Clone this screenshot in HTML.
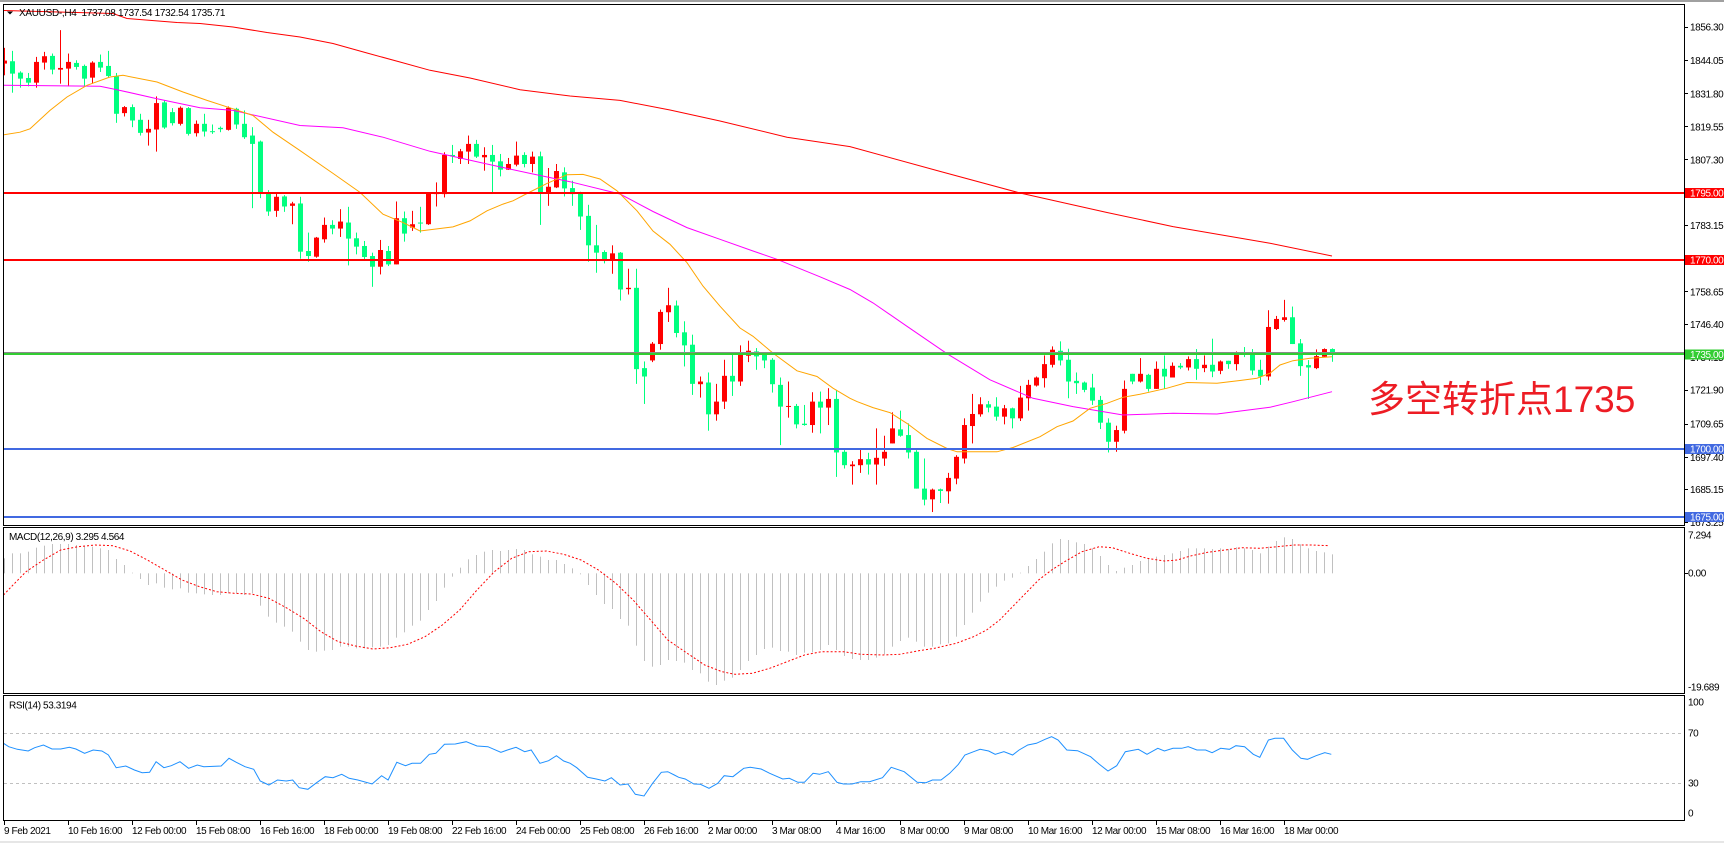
<!DOCTYPE html>
<html><head><meta charset="utf-8"><style>
html,body{margin:0;padding:0;background:#fff;}
svg{display:block;}
text{font-family:"Liberation Sans",sans-serif;font-size:10px;letter-spacing:-0.4px;fill:#000;}
.r{fill:#ff0000;}
.g{fill:#00ff7f;}
.h{fill:#c0c0c0;}
</style></head><body>
<svg width="1724" height="843" viewBox="0 0 1724 843" xmlns="http://www.w3.org/2000/svg">
<defs>
<clipPath id="cm"><rect x="4" y="5" width="1680" height="520"/></clipPath>
<clipPath id="cd"><rect x="4" y="528" width="1680" height="165"/></clipPath>
<clipPath id="cr"><rect x="4" y="696" width="1680" height="124"/></clipPath>
</defs>
<rect x="0" y="0" width="1724" height="843" fill="#fff"/>
<rect x="0" y="0" width="1724" height="2" fill="#a0a0a0"/>
<rect x="0" y="841" width="1724" height="2" fill="#e6e6e6"/>

<!-- MAIN CHART -->
<g clip-path="url(#cm)">
<g transform="scale(1,0.334667)">
<rect class="r" x="4" y="143" width="1" height="82"/><rect class="r" x="2" y="181" width="5" height="9"/>
<rect class="g" x="12" y="152" width="1" height="125"/><rect class="g" x="10" y="183" width="5" height="37"/>
<rect class="g" x="20" y="213" width="1" height="49"/><rect class="g" x="18" y="217" width="5" height="18"/>
<rect class="g" x="28" y="218" width="1" height="40"/><rect class="g" x="26" y="233" width="5" height="14"/>
<rect class="r" x="36" y="170" width="1" height="92"/><rect class="r" x="34" y="185" width="5" height="62"/>
<rect class="r" x="44" y="155" width="1" height="53"/><rect class="r" x="42" y="168" width="5" height="19"/>
<rect class="g" x="52" y="160" width="1" height="62"/><rect class="g" x="50" y="167" width="5" height="41"/>
<rect class="r" x="60" y="90" width="1" height="160"/><rect class="r" x="58" y="203" width="5" height="5"/>
<rect class="r" x="68" y="160" width="1" height="98"/><rect class="r" x="66" y="185" width="5" height="20"/>
<rect class="g" x="76" y="180" width="1" height="28"/><rect class="g" x="74" y="188" width="5" height="12"/>
<rect class="g" x="84" y="193" width="1" height="67"/><rect class="g" x="82" y="197" width="5" height="38"/>
<rect class="r" x="92" y="183" width="1" height="67"/><rect class="r" x="90" y="187" width="5" height="45"/>
<rect class="g" x="100" y="163" width="1" height="52"/><rect class="g" x="98" y="185" width="5" height="17"/>
<rect class="g" x="108" y="152" width="1" height="80"/><rect class="g" x="106" y="197" width="5" height="30"/>
<rect class="g" x="116" y="218" width="1" height="149"/><rect class="g" x="114" y="228" width="5" height="112"/>
<rect class="r" x="124" y="317" width="1" height="31"/><rect class="r" x="122" y="320" width="5" height="18"/>
<rect class="g" x="132" y="312" width="1" height="68"/><rect class="g" x="130" y="320" width="5" height="40"/>
<rect class="g" x="140" y="340" width="1" height="65"/><rect class="g" x="138" y="358" width="5" height="39"/>
<rect class="r" x="148" y="358" width="1" height="77"/><rect class="r" x="146" y="385" width="5" height="11"/>
<rect class="r" x="156" y="288" width="1" height="165"/><rect class="r" x="154" y="308" width="5" height="79"/>
<rect class="g" x="164" y="300" width="1" height="85"/><rect class="g" x="162" y="306" width="5" height="75"/>
<rect class="g" x="172" y="323" width="1" height="52"/><rect class="g" x="170" y="335" width="5" height="33"/>
<rect class="r" x="180" y="318" width="1" height="57"/><rect class="r" x="178" y="322" width="5" height="48"/>
<rect class="g" x="188" y="320" width="1" height="85"/><rect class="g" x="186" y="323" width="5" height="77"/>
<rect class="r" x="196" y="360" width="1" height="48"/><rect class="r" x="194" y="370" width="5" height="28"/>
<rect class="g" x="204" y="340" width="1" height="68"/><rect class="g" x="202" y="370" width="5" height="23"/>
<rect class="g" x="212" y="372" width="1" height="28"/><rect class="g" x="210" y="392" width="5" height="3"/>
<rect class="g" x="220" y="378" width="1" height="17"/><rect class="g" x="218" y="382" width="5" height="4"/>
<rect class="r" x="228" y="318" width="1" height="72"/><rect class="r" x="226" y="322" width="5" height="66"/>
<rect class="g" x="236" y="322" width="1" height="63"/><rect class="g" x="234" y="325" width="5" height="47"/>
<rect class="g" x="244" y="330" width="1" height="85"/><rect class="g" x="242" y="370" width="5" height="40"/>
<rect class="g" x="252" y="380" width="1" height="242"/><rect class="g" x="250" y="405" width="5" height="25"/>
<rect class="g" x="260" y="420" width="1" height="172"/><rect class="g" x="258" y="423" width="5" height="152"/>
<rect class="g" x="268" y="568" width="1" height="77"/><rect class="g" x="266" y="578" width="5" height="54"/>
<rect class="r" x="276" y="578" width="1" height="70"/><rect class="r" x="274" y="588" width="5" height="42"/>
<rect class="g" x="284" y="583" width="1" height="50"/><rect class="g" x="282" y="587" width="5" height="30"/>
<rect class="r" x="292" y="603" width="1" height="67"/><rect class="r" x="290" y="608" width="5" height="7"/>
<rect class="g" x="300" y="588" width="1" height="185"/><rect class="g" x="298" y="608" width="5" height="144"/>
<rect class="g" x="308" y="695" width="1" height="87"/><rect class="g" x="306" y="750" width="5" height="15"/>
<rect class="r" x="316" y="708" width="1" height="62"/><rect class="r" x="314" y="710" width="5" height="57"/>
<rect class="r" x="324" y="650" width="1" height="75"/><rect class="r" x="322" y="672" width="5" height="43"/>
<rect class="g" x="332" y="658" width="1" height="42"/><rect class="g" x="330" y="672" width="5" height="11"/>
<rect class="r" x="340" y="625" width="1" height="83"/><rect class="r" x="338" y="662" width="5" height="21"/>
<rect class="g" x="348" y="618" width="1" height="175"/><rect class="g" x="346" y="665" width="5" height="48"/>
<rect class="g" x="356" y="695" width="1" height="65"/><rect class="g" x="354" y="712" width="5" height="25"/>
<rect class="g" x="364" y="720" width="1" height="55"/><rect class="g" x="362" y="735" width="5" height="33"/>
<rect class="g" x="372" y="755" width="1" height="102"/><rect class="g" x="370" y="765" width="5" height="32"/>
<rect class="r" x="380" y="717" width="1" height="103"/><rect class="r" x="378" y="747" width="5" height="50"/>
<rect class="g" x="388" y="735" width="1" height="60"/><rect class="g" x="386" y="750" width="5" height="40"/>
<rect class="r" x="396" y="602" width="1" height="188"/><rect class="r" x="394" y="652" width="5" height="138"/>
<rect class="g" x="404" y="632" width="1" height="90"/><rect class="g" x="402" y="652" width="5" height="46"/>
<rect class="r" x="412" y="630" width="1" height="60"/><rect class="r" x="410" y="670" width="5" height="10"/>
<rect class="g" x="420" y="618" width="1" height="77"/><rect class="g" x="418" y="665" width="5" height="3"/>
<rect class="r" x="428" y="575" width="1" height="97"/><rect class="r" x="426" y="577" width="5" height="93"/>
<rect class="r" x="436" y="545" width="1" height="72"/><rect class="r" x="434" y="575" width="5" height="5"/>
<rect class="r" x="444" y="455" width="1" height="135"/><rect class="r" x="442" y="463" width="5" height="117"/>
<rect class="g" x="452" y="433" width="1" height="54"/><rect class="g" x="450" y="463" width="5" height="4"/>
<rect class="r" x="460" y="445" width="1" height="45"/><rect class="r" x="458" y="452" width="5" height="23"/>
<rect class="r" x="468" y="405" width="1" height="85"/><rect class="r" x="466" y="430" width="5" height="23"/>
<rect class="g" x="476" y="418" width="1" height="54"/><rect class="g" x="474" y="430" width="5" height="38"/>
<rect class="r" x="484" y="440" width="1" height="70"/><rect class="r" x="482" y="463" width="5" height="7"/>
<rect class="g" x="492" y="433" width="1" height="142"/><rect class="g" x="490" y="463" width="5" height="20"/>
<rect class="g" x="500" y="460" width="1" height="67"/><rect class="g" x="498" y="482" width="5" height="25"/>
<rect class="r" x="508" y="472" width="1" height="36"/><rect class="r" x="506" y="490" width="5" height="17"/>
<rect class="r" x="516" y="423" width="1" height="74"/><rect class="r" x="514" y="465" width="5" height="27"/>
<rect class="g" x="524" y="455" width="1" height="45"/><rect class="g" x="522" y="463" width="5" height="27"/>
<rect class="r" x="532" y="453" width="1" height="62"/><rect class="r" x="530" y="468" width="5" height="22"/>
<rect class="g" x="540" y="453" width="1" height="219"/><rect class="g" x="538" y="467" width="5" height="108"/>
<rect class="r" x="548" y="502" width="1" height="113"/><rect class="r" x="546" y="558" width="5" height="19"/>
<rect class="r" x="556" y="490" width="1" height="72"/><rect class="r" x="554" y="511" width="5" height="49"/>
<rect class="g" x="564" y="500" width="1" height="87"/><rect class="g" x="562" y="515" width="5" height="48"/>
<rect class="g" x="572" y="540" width="1" height="75"/><rect class="g" x="570" y="562" width="5" height="18"/>
<rect class="g" x="580" y="573" width="1" height="114"/><rect class="g" x="578" y="578" width="5" height="69"/>
<rect class="g" x="588" y="612" width="1" height="170"/><rect class="g" x="586" y="645" width="5" height="88"/>
<rect class="g" x="596" y="672" width="1" height="143"/><rect class="g" x="594" y="733" width="5" height="22"/>
<rect class="g" x="604" y="748" width="1" height="39"/><rect class="g" x="602" y="753" width="5" height="27"/>
<rect class="r" x="612" y="733" width="1" height="85"/><rect class="r" x="610" y="757" width="5" height="20"/>
<rect class="g" x="620" y="753" width="1" height="145"/><rect class="g" x="618" y="755" width="5" height="110"/>
<rect class="r" x="628" y="803" width="1" height="77"/><rect class="r" x="626" y="860" width="5" height="4"/>
<rect class="g" x="636" y="803" width="1" height="344"/><rect class="g" x="634" y="860" width="5" height="243"/>
<rect class="g" x="644" y="1080" width="1" height="127"/><rect class="g" x="642" y="1100" width="5" height="25"/>
<rect class="r" x="652" y="1022" width="1" height="60"/><rect class="r" x="650" y="1027" width="5" height="50"/>
<rect class="r" x="660" y="925" width="1" height="120"/><rect class="r" x="658" y="932" width="5" height="96"/>
<rect class="r" x="668" y="860" width="1" height="102"/><rect class="r" x="666" y="912" width="5" height="21"/>
<rect class="g" x="676" y="898" width="1" height="110"/><rect class="g" x="674" y="913" width="5" height="82"/>
<rect class="g" x="684" y="960" width="1" height="135"/><rect class="g" x="682" y="993" width="5" height="39"/>
<rect class="g" x="692" y="1000" width="1" height="180"/><rect class="g" x="690" y="1030" width="5" height="117"/>
<rect class="r" x="700" y="1125" width="1" height="63"/><rect class="r" x="698" y="1140" width="5" height="8"/>
<rect class="g" x="708" y="1113" width="1" height="174"/><rect class="g" x="706" y="1143" width="5" height="95"/>
<rect class="r" x="716" y="1147" width="1" height="110"/><rect class="r" x="714" y="1200" width="5" height="38"/>
<rect class="r" x="724" y="1075" width="1" height="147"/><rect class="r" x="722" y="1123" width="5" height="77"/>
<rect class="g" x="732" y="1052" width="1" height="131"/><rect class="g" x="730" y="1123" width="5" height="17"/>
<rect class="r" x="740" y="1032" width="1" height="121"/><rect class="r" x="738" y="1060" width="5" height="80"/>
<rect class="r" x="748" y="1018" width="1" height="64"/><rect class="r" x="746" y="1048" width="5" height="15"/>
<rect class="g" x="756" y="1040" width="1" height="65"/><rect class="g" x="754" y="1050" width="5" height="15"/>
<rect class="g" x="764" y="1053" width="1" height="47"/><rect class="g" x="762" y="1058" width="5" height="19"/>
<rect class="g" x="772" y="1070" width="1" height="103"/><rect class="g" x="770" y="1075" width="5" height="73"/>
<rect class="g" x="780" y="1128" width="1" height="202"/><rect class="g" x="778" y="1150" width="5" height="65"/>
<rect class="r" x="788" y="1140" width="1" height="108"/><rect class="r" x="786" y="1213" width="5" height="3"/>
<rect class="g" x="796" y="1207" width="1" height="73"/><rect class="g" x="794" y="1213" width="5" height="55"/>
<rect class="g" x="804" y="1210" width="1" height="62"/><rect class="g" x="802" y="1266" width="5" height="4"/>
<rect class="r" x="812" y="1172" width="1" height="121"/><rect class="r" x="810" y="1200" width="5" height="70"/>
<rect class="g" x="820" y="1170" width="1" height="125"/><rect class="g" x="818" y="1200" width="5" height="18"/>
<rect class="r" x="828" y="1160" width="1" height="110"/><rect class="r" x="826" y="1192" width="5" height="26"/>
<rect class="g" x="836" y="1165" width="1" height="260"/><rect class="g" x="834" y="1192" width="5" height="160"/>
<rect class="g" x="844" y="1345" width="1" height="55"/><rect class="g" x="842" y="1350" width="5" height="40"/>
<rect class="r" x="852" y="1378" width="1" height="70"/><rect class="r" x="850" y="1388" width="5" height="5"/>
<rect class="r" x="860" y="1343" width="1" height="70"/><rect class="r" x="858" y="1372" width="5" height="18"/>
<rect class="g" x="868" y="1353" width="1" height="65"/><rect class="g" x="866" y="1372" width="5" height="16"/>
<rect class="r" x="876" y="1280" width="1" height="168"/><rect class="r" x="874" y="1368" width="5" height="20"/>
<rect class="r" x="884" y="1302" width="1" height="90"/><rect class="r" x="882" y="1350" width="5" height="20"/>
<rect class="r" x="892" y="1232" width="1" height="93"/><rect class="r" x="890" y="1280" width="5" height="45"/>
<rect class="g" x="900" y="1227" width="1" height="78"/><rect class="g" x="898" y="1283" width="5" height="19"/>
<rect class="g" x="908" y="1265" width="1" height="105"/><rect class="g" x="906" y="1300" width="5" height="52"/>
<rect class="g" x="916" y="1345" width="1" height="115"/><rect class="g" x="914" y="1350" width="5" height="110"/>
<rect class="g" x="924" y="1370" width="1" height="140"/><rect class="g" x="922" y="1460" width="5" height="33"/>
<rect class="r" x="932" y="1460" width="1" height="70"/><rect class="r" x="930" y="1463" width="5" height="29"/>
<rect class="g" x="940" y="1460" width="1" height="43"/><rect class="g" x="938" y="1462" width="5" height="5"/>
<rect class="r" x="948" y="1413" width="1" height="92"/><rect class="r" x="946" y="1428" width="5" height="40"/>
<rect class="r" x="956" y="1360" width="1" height="87"/><rect class="r" x="954" y="1365" width="5" height="65"/>
<rect class="r" x="964" y="1250" width="1" height="135"/><rect class="r" x="962" y="1270" width="5" height="100"/>
<rect class="r" x="972" y="1177" width="1" height="148"/><rect class="r" x="970" y="1237" width="5" height="36"/>
<rect class="r" x="980" y="1187" width="1" height="58"/><rect class="r" x="978" y="1208" width="5" height="30"/>
<rect class="g" x="988" y="1198" width="1" height="34"/><rect class="g" x="986" y="1208" width="5" height="10"/>
<rect class="g" x="996" y="1187" width="1" height="70"/><rect class="g" x="994" y="1215" width="5" height="30"/>
<rect class="r" x="1004" y="1210" width="1" height="58"/><rect class="r" x="1002" y="1220" width="5" height="25"/>
<rect class="g" x="1012" y="1218" width="1" height="62"/><rect class="g" x="1010" y="1220" width="5" height="30"/>
<rect class="r" x="1020" y="1153" width="1" height="105"/><rect class="r" x="1018" y="1188" width="5" height="62"/>
<rect class="r" x="1028" y="1135" width="1" height="92"/><rect class="r" x="1026" y="1150" width="5" height="40"/>
<rect class="r" x="1036" y="1125" width="1" height="30"/><rect class="r" x="1034" y="1128" width="5" height="24"/>
<rect class="r" x="1044" y="1062" width="1" height="96"/><rect class="r" x="1042" y="1088" width="5" height="42"/>
<rect class="r" x="1052" y="1035" width="1" height="63"/><rect class="r" x="1050" y="1045" width="5" height="45"/>
<rect class="g" x="1060" y="1020" width="1" height="72"/><rect class="g" x="1058" y="1048" width="5" height="29"/>
<rect class="g" x="1068" y="1042" width="1" height="148"/><rect class="g" x="1066" y="1075" width="5" height="65"/>
<rect class="g" x="1076" y="1113" width="1" height="64"/><rect class="g" x="1074" y="1138" width="5" height="7"/>
<rect class="g" x="1084" y="1140" width="1" height="32"/><rect class="g" x="1082" y="1143" width="5" height="22"/>
<rect class="g" x="1092" y="1117" width="1" height="93"/><rect class="g" x="1090" y="1158" width="5" height="39"/>
<rect class="g" x="1100" y="1183" width="1" height="99"/><rect class="g" x="1098" y="1195" width="5" height="68"/>
<rect class="g" x="1108" y="1250" width="1" height="102"/><rect class="g" x="1106" y="1263" width="5" height="57"/>
<rect class="r" x="1116" y="1272" width="1" height="78"/><rect class="r" x="1114" y="1285" width="5" height="35"/>
<rect class="r" x="1124" y="1137" width="1" height="158"/><rect class="r" x="1122" y="1162" width="5" height="125"/>
<rect class="g" x="1132" y="1117" width="1" height="31"/><rect class="g" x="1130" y="1117" width="5" height="23"/>
<rect class="r" x="1140" y="1070" width="1" height="73"/><rect class="r" x="1138" y="1117" width="5" height="23"/>
<rect class="g" x="1148" y="1117" width="1" height="53"/><rect class="g" x="1146" y="1120" width="5" height="42"/>
<rect class="r" x="1156" y="1080" width="1" height="82"/><rect class="r" x="1154" y="1102" width="5" height="60"/>
<rect class="g" x="1164" y="1062" width="1" height="100"/><rect class="g" x="1162" y="1102" width="5" height="23"/>
<rect class="r" x="1172" y="1083" width="1" height="45"/><rect class="r" x="1170" y="1093" width="5" height="35"/>
<rect class="g" x="1180" y="1085" width="1" height="18"/><rect class="g" x="1178" y="1093" width="5" height="5"/>
<rect class="r" x="1188" y="1065" width="1" height="42"/><rect class="r" x="1186" y="1073" width="5" height="25"/>
<rect class="g" x="1196" y="1043" width="1" height="92"/><rect class="g" x="1194" y="1073" width="5" height="29"/>
<rect class="r" x="1204" y="1062" width="1" height="50"/><rect class="r" x="1202" y="1090" width="5" height="10"/>
<rect class="g" x="1212" y="1012" width="1" height="115"/><rect class="g" x="1210" y="1090" width="5" height="20"/>
<rect class="r" x="1220" y="1077" width="1" height="41"/><rect class="r" x="1218" y="1080" width="5" height="28"/>
<rect class="g" x="1228" y="1078" width="1" height="24"/><rect class="g" x="1226" y="1078" width="5" height="10"/>
<rect class="r" x="1236" y="1050" width="1" height="57"/><rect class="r" x="1234" y="1053" width="5" height="35"/>
<rect class="g" x="1244" y="1037" width="1" height="30"/><rect class="g" x="1242" y="1053" width="5" height="5"/>
<rect class="g" x="1252" y="1043" width="1" height="77"/><rect class="g" x="1250" y="1055" width="5" height="52"/>
<rect class="g" x="1260" y="1075" width="1" height="75"/><rect class="g" x="1258" y="1105" width="5" height="20"/>
<rect class="r" x="1268" y="927" width="1" height="210"/><rect class="r" x="1266" y="977" width="5" height="148"/>
<rect class="r" x="1276" y="944" width="1" height="42"/><rect class="r" x="1274" y="953" width="5" height="30"/>
<rect class="r" x="1284" y="896" width="1" height="65"/><rect class="r" x="1282" y="948" width="5" height="8"/>
<rect class="g" x="1292" y="916" width="1" height="112"/><rect class="g" x="1290" y="948" width="5" height="80"/>
<rect class="g" x="1300" y="1013" width="1" height="110"/><rect class="g" x="1298" y="1026" width="5" height="68"/>
<rect class="g" x="1308" y="1076" width="1" height="116"/><rect class="g" x="1306" y="1091" width="5" height="7"/>
<rect class="r" x="1316" y="1044" width="1" height="59"/><rect class="r" x="1314" y="1064" width="5" height="36"/>
<rect class="r" x="1324" y="1041" width="1" height="27"/><rect class="r" x="1322" y="1043" width="5" height="23"/>
<rect class="g" x="1332" y="1041" width="1" height="40"/><rect class="g" x="1330" y="1043" width="5" height="15"/>
</g>

<!-- moving averages -->
<polyline fill="none" stroke="#ff0000" stroke-width="1" points="4,10.5 113,13.5 127,18.5 177,22.5 200,23.5 233,27 267,32.5 300,37 333,43.5 367,53 400,62 430,70.3 470,78 520,89.7 570,96 620,100.4 670,110 720,121 787,137.2 850,146.6 940,171.4 1020,193 1107,212.5 1173,226.6 1270,243.3 1332,256"/>
<polyline fill="none" stroke="#ff00ff" stroke-width="1" points="4,85.3 100,86.3 117,89.7 157,98.7 200,107.7 233,110.4 300,125.5 343,127.8 383,137.2 430,151.3 487,164 530,173.4 570,181.7 620,194 653,211.5 687,227.6 720,239.3 753,251 777,259.3 820,276.8 850,289.5 873,302.9 907,326.3 947,353.7 990,379.8 1033,398.3 1073,406.6 1123,415 1173,413.3 1217,414 1270,407.3 1293,401.7 1332,391.7"/>
<polyline fill="none" stroke="#ffa500" stroke-width="1" points="4,134.8 20,132.2 30,128.8 50,110.4 67,97 87,85.3 110,77 123,75.3 157,82 183,92 207,100.4 233,108.8 253,115.5 273,132.2 300,150.6 333,173.4 360,192.4 383,214.2 403,222.6 420,231 453,226.9 470,220.9 487,210.8 503,204.1 513,200.8 527,193.5 547,183.4 567,174.7 583,174.4 600,179 617,190.8 637,210.8 653,231 670,244.3 687,262.7 703,286.1 720,306.2 740,328 753,336.3 773,353.1 797,370.8 817,376.5 833,388.2 850,398.3 857,401.6 873,407.6 890,412.6 907,423.4 927,438.4 947,448.5 957,451.8 997,451.8 1013,447.5 1040,436.7 1057,426.7 1073,421 1090,408.3 1107,403.3 1123,397.3 1140,394.3 1167,388.2 1187,382.5 1217,383.2 1240,380.5 1257,378.2 1270,373.2 1280,365 1293,360.7 1310,358.3 1332,356.7"/>

<!-- horizontal levels -->
<rect x="4" y="192" width="1680" height="2" fill="#ff0000"/>
<rect x="4" y="259" width="1680" height="2" fill="#ff0000"/>
<rect x="4" y="352" width="1680" height="1" fill="#8a8a8a"/>
<rect x="4" y="353" width="1680" height="2" fill="#32cd32"/>
<rect x="4" y="448" width="1680" height="2" fill="#4169e1"/>
<rect x="4" y="516" width="1680" height="2" fill="#4169e1"/>

<text x="1368" y="412" style="font-family:'Liberation Sans','Noto Sans CJK SC',sans-serif;font-size:37px;letter-spacing:0;fill:#ed1c24;">多空转折点1735</text>

<polygon points="7,11.5 13,11.5 10,14.5" fill="#000"/>
<text x="19" y="16" style="letter-spacing:-0.3px">XAUUSD-,H4&#160; 1737.08 1737.54 1732.54 1735.71</text>
</g>
<rect x="3.5" y="4.5" width="1681" height="521" fill="none" stroke="#000" stroke-width="1"/>

<!-- price axis -->
<g fill="#000">
<rect x="1685" y="27" width="3" height="1"/><rect x="1685" y="60" width="3" height="1"/><rect x="1685" y="93" width="3" height="1"/><rect x="1685" y="126" width="3" height="1"/><rect x="1685" y="159" width="3" height="1"/><rect x="1685" y="225" width="3" height="1"/><rect x="1685" y="291" width="3" height="1"/><rect x="1685" y="324" width="3" height="1"/><rect x="1685" y="390" width="3" height="1"/><rect x="1685" y="424" width="3" height="1"/><rect x="1685" y="457" width="3" height="1"/><rect x="1685" y="489" width="3" height="1"/><rect x="1685" y="522" width="3" height="1"/>
</g>
<text x="1690" y="30.6">1856.30</text>
<text x="1690" y="64.1">1844.05</text>
<text x="1690" y="97.3">1831.80</text>
<text x="1690" y="130.3">1819.55</text>
<text x="1690" y="163.3">1807.30</text>
<text x="1690" y="228.9">1783.15</text>
<text x="1690" y="295.3">1758.65</text>
<text x="1690" y="327.9">1746.40</text>
<text x="1690" y="361.1">1734.15</text>
<text x="1690" y="393.6">1721.90</text>
<text x="1690" y="427.6">1709.65</text>
<text x="1690" y="460.9">1697.40</text>
<text x="1690" y="492.9">1685.15</text>
<text x="1690" y="526.1">1673.25</text>

<rect x="1685" y="188" width="39" height="10" fill="#ff0000"/>
<text x="1690" y="196.6" style="fill:#fff">1795.00</text>
<rect x="1685" y="255" width="39" height="10" fill="#ff0000"/>
<text x="1690" y="263.6" style="fill:#fff">1770.00</text>
<rect x="1685" y="349.5" width="39" height="10" fill="#32cd32"/>
<text x="1690" y="358" style="fill:#fff">1735.00</text>
<rect x="1685" y="444" width="39" height="10" fill="#4169e1"/>
<text x="1690" y="452.6" style="fill:#fff">1700.00</text>
<rect x="1685" y="512" width="39" height="10" fill="#4169e1"/>
<text x="1690" y="520.6" style="fill:#fff">1675.00</text>

<!-- MACD -->
<g clip-path="url(#cd)">
<g transform="translate(0,525) scale(1,0.333333)" class="h">
<rect x="4" y="100" width="1" height="45"/><rect x="12" y="85" width="1" height="60"/><rect x="20" y="85" width="1" height="60"/><rect x="28" y="80" width="1" height="65"/><rect x="36" y="68" width="1" height="77"/><rect x="44" y="62" width="1" height="83"/><rect x="52" y="57" width="1" height="88"/><rect x="60" y="57" width="1" height="88"/><rect x="68" y="57" width="1" height="88"/><rect x="76" y="60" width="1" height="85"/>
<rect x="84" y="63" width="1" height="82"/><rect x="92" y="65" width="1" height="80"/><rect x="100" y="70" width="1" height="75"/><rect x="108" y="75" width="1" height="70"/><rect x="116" y="102" width="1" height="43"/><rect x="124" y="120" width="1" height="25"/><rect x="132" y="143" width="1" height="2"/><rect x="140" y="145" width="1" height="17"/><rect x="148" y="145" width="1" height="35"/><rect x="156" y="145" width="1" height="30"/>
<rect x="164" y="145" width="1" height="43"/><rect x="172" y="145" width="1" height="48"/><rect x="180" y="145" width="1" height="45"/><rect x="188" y="145" width="1" height="58"/><rect x="196" y="145" width="1" height="60"/><rect x="204" y="145" width="1" height="63"/><rect x="212" y="145" width="1" height="65"/><rect x="220" y="145" width="1" height="65"/><rect x="228" y="145" width="1" height="60"/><rect x="236" y="145" width="1" height="60"/>
<rect x="244" y="145" width="1" height="65"/><rect x="252" y="145" width="1" height="60"/><rect x="260" y="145" width="1" height="97"/><rect x="268" y="145" width="1" height="130"/><rect x="276" y="145" width="1" height="148"/><rect x="284" y="145" width="1" height="160"/><rect x="292" y="145" width="1" height="175"/><rect x="300" y="145" width="1" height="205"/><rect x="308" y="145" width="1" height="230"/><rect x="316" y="145" width="1" height="235"/>
<rect x="324" y="145" width="1" height="232"/><rect x="332" y="145" width="1" height="230"/><rect x="340" y="145" width="1" height="220"/><rect x="348" y="145" width="1" height="220"/><rect x="356" y="145" width="1" height="225"/><rect x="364" y="145" width="1" height="225"/><rect x="372" y="145" width="1" height="222"/><rect x="380" y="145" width="1" height="220"/><rect x="388" y="145" width="1" height="215"/><rect x="396" y="145" width="1" height="193"/>
<rect x="404" y="145" width="1" height="177"/><rect x="412" y="145" width="1" height="157"/><rect x="420" y="145" width="1" height="142"/><rect x="428" y="145" width="1" height="110"/><rect x="436" y="145" width="1" height="83"/><rect x="444" y="145" width="1" height="43"/><rect x="452" y="145" width="1" height="10"/><rect x="460" y="128" width="1" height="17"/><rect x="468" y="103" width="1" height="42"/><rect x="476" y="90" width="1" height="55"/>
<rect x="484" y="80" width="1" height="65"/><rect x="492" y="75" width="1" height="70"/><rect x="500" y="78" width="1" height="67"/><rect x="508" y="75" width="1" height="70"/><rect x="516" y="72" width="1" height="73"/><rect x="524" y="75" width="1" height="70"/><rect x="532" y="88" width="1" height="57"/><rect x="540" y="95" width="1" height="50"/><rect x="548" y="105" width="1" height="40"/><rect x="556" y="105" width="1" height="40"/>
<rect x="564" y="117" width="1" height="28"/><rect x="572" y="130" width="1" height="15"/><rect x="580" y="145" width="1" height="3"/><rect x="588" y="145" width="1" height="35"/><rect x="596" y="145" width="1" height="65"/><rect x="604" y="145" width="1" height="92"/><rect x="612" y="145" width="1" height="107"/><rect x="620" y="145" width="1" height="137"/><rect x="628" y="145" width="1" height="157"/><rect x="636" y="145" width="1" height="217"/>
<rect x="644" y="145" width="1" height="263"/><rect x="652" y="145" width="1" height="280"/><rect x="660" y="145" width="1" height="275"/><rect x="668" y="145" width="1" height="260"/><rect x="676" y="145" width="1" height="263"/><rect x="684" y="145" width="1" height="268"/><rect x="692" y="145" width="1" height="290"/><rect x="700" y="145" width="1" height="300"/><rect x="708" y="145" width="1" height="325"/><rect x="716" y="145" width="1" height="335"/>
<rect x="724" y="145" width="1" height="322"/><rect x="732" y="145" width="1" height="313"/><rect x="740" y="145" width="1" height="290"/><rect x="748" y="145" width="1" height="263"/><rect x="756" y="145" width="1" height="245"/><rect x="764" y="145" width="1" height="227"/><rect x="772" y="145" width="1" height="223"/><rect x="780" y="145" width="1" height="233"/><rect x="788" y="145" width="1" height="235"/><rect x="796" y="145" width="1" height="245"/>
<rect x="804" y="145" width="1" height="238"/><rect x="812" y="145" width="1" height="237"/><rect x="820" y="145" width="1" height="230"/><rect x="828" y="145" width="1" height="215"/><rect x="836" y="145" width="1" height="230"/><rect x="844" y="145" width="1" height="248"/><rect x="852" y="145" width="1" height="257"/><rect x="860" y="145" width="1" height="260"/><rect x="868" y="145" width="1" height="260"/><rect x="876" y="145" width="1" height="253"/>
<rect x="884" y="145" width="1" height="243"/><rect x="892" y="145" width="1" height="220"/><rect x="900" y="145" width="1" height="203"/><rect x="908" y="145" width="1" height="193"/><rect x="916" y="145" width="1" height="205"/><rect x="924" y="145" width="1" height="220"/><rect x="932" y="145" width="1" height="220"/><rect x="940" y="145" width="1" height="213"/><rect x="948" y="145" width="1" height="210"/><rect x="956" y="145" width="1" height="190"/>
<rect x="964" y="145" width="1" height="155"/><rect x="972" y="145" width="1" height="118"/><rect x="980" y="145" width="1" height="85"/><rect x="988" y="145" width="1" height="58"/><rect x="996" y="145" width="1" height="40"/><rect x="1004" y="145" width="1" height="22"/><rect x="1012" y="145" width="1" height="13"/><rect x="1020" y="143" width="1" height="2"/><rect x="1028" y="123" width="1" height="22"/><rect x="1036" y="102" width="1" height="43"/>
<rect x="1044" y="80" width="1" height="65"/><rect x="1052" y="55" width="1" height="90"/><rect x="1060" y="42" width="1" height="103"/><rect x="1068" y="45" width="1" height="100"/><rect x="1076" y="52" width="1" height="93"/><rect x="1084" y="57" width="1" height="88"/><rect x="1092" y="70" width="1" height="75"/><rect x="1100" y="93" width="1" height="52"/><rect x="1108" y="120" width="1" height="25"/><rect x="1116" y="138" width="1" height="7"/>
<rect x="1124" y="128" width="1" height="17"/><rect x="1132" y="120" width="1" height="25"/><rect x="1140" y="108" width="1" height="37"/><rect x="1148" y="100" width="1" height="45"/><rect x="1156" y="95" width="1" height="50"/><rect x="1164" y="90" width="1" height="55"/><rect x="1172" y="85" width="1" height="60"/><rect x="1180" y="78" width="1" height="67"/><rect x="1188" y="70" width="1" height="75"/><rect x="1196" y="70" width="1" height="75"/>
<rect x="1204" y="70" width="1" height="75"/><rect x="1212" y="72" width="1" height="73"/><rect x="1220" y="70" width="1" height="75"/><rect x="1228" y="72" width="1" height="73"/><rect x="1236" y="67" width="1" height="78"/><rect x="1244" y="70" width="1" height="75"/><rect x="1252" y="75" width="1" height="70"/><rect x="1260" y="85" width="1" height="60"/><rect x="1268" y="65" width="1" height="80"/><rect x="1276" y="48" width="1" height="97"/>
<rect x="1284" y="37" width="1" height="108"/><rect x="1292" y="42" width="1" height="103"/><rect x="1300" y="58" width="1" height="87"/><rect x="1308" y="70" width="1" height="75"/><rect x="1316" y="78" width="1" height="67"/><rect x="1324" y="82" width="1" height="63"/><rect x="1332" y="88" width="1" height="57"/>
</g>
<polyline fill="none" stroke="#ff0000" stroke-width="1" stroke-dasharray="2,2" points="3.5,595 13,585 26,571.7 43.4,560 60.7,550 78,546.7 95.4,545 112.7,545.7 130,551 147.4,560 164.8,570 182,580 199.5,586.7 216.8,591.7 234,593.3 251.5,594 268.9,598.3 286.2,607.7 303.6,618.3 320.9,631.7 338.2,641.7 355.6,646 372.9,649 390.3,647.7 407.6,644.3 425,636.7 442.3,625 459.7,610 477,590 494.4,571.7 511.7,558.3 529,551.7 546.4,551 563.7,554.3 581,560 598.4,570 615.8,583.3 633.1,600 650.5,620 667.8,640 687.3,653.3 704.7,665 722,671.7 735,674.3 752.4,673.3 769.7,668.3 787.1,661.7 804.4,655 821.8,651.7 843.5,651.7 860.8,654.3 882.5,655 899.8,654.3 917.2,651 934.5,648.3 956.2,643.3 973.6,636.7 986.6,630 999.6,620 1012.6,606.7 1025.6,593.3 1038.6,580 1051.6,570 1064.6,561.7 1082,551.7 1099.3,546.7 1112.3,547.7 1129.7,553.3 1147,558.3 1164.4,561 1177.4,560 1190.4,556 1207.7,552.3 1225,550 1242.4,547.7 1259.8,548.3 1277.1,546.7 1294.5,545 1311.8,545 1329.2,545.7"/>
<text x="9" y="540">MACD(12,26,9) 3.295 4.564</text>
</g>
<rect x="3.5" y="527.5" width="1681" height="166" fill="none" stroke="#000" stroke-width="1"/>
<rect x="1685" y="573" width="3" height="1" fill="#000"/>
<text x="1688" y="538.6">7.294</text>
<text x="1688" y="576.6">0.00</text>
<text x="1688" y="690.6">-19.689</text>

<!-- RSI -->
<g clip-path="url(#cr)">
<line x1="4" y1="733.5" x2="1684" y2="733.5" stroke="#c0c0c0" stroke-width="1" stroke-dasharray="3,3"/>
<line x1="4" y1="783.5" x2="1684" y2="783.5" stroke="#c0c0c0" stroke-width="1" stroke-dasharray="3,3"/>
<polyline fill="none" stroke="#1e90ff" stroke-width="1" points="3.5,743.3 8.7,746.7 17.3,749.3 28.2,751 34.7,747.7 43.4,745 52,749 60.7,749 69.4,747.3 75.9,749 84.6,753.3 93.2,750 101.9,751 108.4,755 116.2,767.7 125.8,766 134.4,770 142.2,772.7 149.6,772.3 156.1,761.7 163.9,767.7 171.3,765.7 180,761.7 188.6,768.3 197.3,765 203.8,766.7 221.2,766 229,758.3 236.3,762.3 245,766.7 253.7,769.3 260.2,781 268.9,785 277.5,780 286.2,781 292.7,780 299.2,787.7 307.9,789.3 316.6,782.7 325.2,776.7 333,777.7 341.7,774.3 349.1,778.3 357.8,780 372.1,784 381.6,775.7 388.1,780 396.8,762.3 405.5,765.7 412,763.3 420.6,763.3 429.3,754.3 435.8,753.3 444.5,744.3 455.3,744 466.2,741.7 477,746 487.9,746.7 500.9,752.3 507.4,750 516,747.3 524.7,751.7 531.2,750 539.9,763.3 548.6,760.7 556.4,755.7 563.7,761 570.2,763.3 576.8,767.7 587.6,777.3 596.3,779 604.9,781 611.4,777.7 620.1,785 627.9,784 635.3,794.3 644,796 652.6,783.3 661.3,772.3 667.8,771.7 674.3,775 678.7,777.3 685.2,779 693.9,784 700.4,784.3 709,788.3 717.7,783.3 724.2,775.7 732.9,776.7 743.7,768.3 750.2,767.3 761.1,769 769.7,773.3 782.7,779 789.3,778.3 797.9,782.3 804.4,782.3 813.1,773.3 819.6,774.3 828.3,771.7 837,782.3 843.5,784 852.1,784 860.8,781.7 869.5,781.7 882.5,777.7 891.2,767.3 904.2,771.7 917.2,782.3 925.9,782.7 932.4,780 941,780 949.7,773.3 958.4,764.3 964.9,755 973.6,751.7 980.1,749.3 988.7,751 995.2,754.3 1003.9,751.7 1012.6,755 1019.1,750 1027.8,745 1036.4,743.3 1045.1,739.3 1051.6,736.7 1058.1,740 1066.8,750 1077.6,750.7 1090.6,756.7 1099.3,764.3 1108,771 1116.7,765.7 1125.3,751.7 1138.3,749.3 1147,754.3 1157.8,748.3 1164.4,751 1173,748.3 1181.7,748.3 1188.2,746.7 1196.9,750 1205.6,750 1212.1,752.7 1220.7,748.3 1229.4,749.3 1235.9,745.7 1244.6,746.7 1253.3,754.3 1259.8,757.3 1268.4,740 1274.9,738.3 1283.6,738.3 1292.3,750 1300.9,758.3 1307.5,759.3 1316.1,755.7 1324.8,752.7 1331.3,754.3"/>
<text x="9" y="708.3">RSI(14) 53.3194</text>
</g>
<rect x="3.5" y="695.5" width="1681" height="125" fill="none" stroke="#000" stroke-width="1"/>
<text x="1688" y="705.6">100</text>
<text x="1688" y="736.6">70</text>
<text x="1688" y="786.6">30</text>
<text x="1688" y="816.6">0</text>

<!-- time axis -->
<g fill="#000">
<rect x="4" y="821" width="1" height="4"/><rect x="68" y="821" width="1" height="4"/><rect x="132" y="821" width="1" height="4"/><rect x="196" y="821" width="1" height="4"/><rect x="260" y="821" width="1" height="4"/><rect x="324" y="821" width="1" height="4"/><rect x="388" y="821" width="1" height="4"/><rect x="452" y="821" width="1" height="4"/><rect x="516" y="821" width="1" height="4"/><rect x="580" y="821" width="1" height="4"/><rect x="644" y="821" width="1" height="4"/><rect x="708" y="821" width="1" height="4"/><rect x="772" y="821" width="1" height="4"/><rect x="836" y="821" width="1" height="4"/><rect x="900" y="821" width="1" height="4"/><rect x="964" y="821" width="1" height="4"/><rect x="1028" y="821" width="1" height="4"/><rect x="1092" y="821" width="1" height="4"/><rect x="1156" y="821" width="1" height="4"/><rect x="1220" y="821" width="1" height="4"/><rect x="1284" y="821" width="1" height="4"/>
</g>
<text x="4" y="834">9 Feb 2021</text>
<text x="68" y="834">10 Feb 16:00</text>
<text x="132" y="834">12 Feb 00:00</text>
<text x="196" y="834">15 Feb 08:00</text>
<text x="260" y="834">16 Feb 16:00</text>
<text x="324" y="834">18 Feb 00:00</text>
<text x="388" y="834">19 Feb 08:00</text>
<text x="452" y="834">22 Feb 16:00</text>
<text x="516" y="834">24 Feb 00:00</text>
<text x="580" y="834">25 Feb 08:00</text>
<text x="644" y="834">26 Feb 16:00</text>
<text x="708" y="834">2 Mar 00:00</text>
<text x="772" y="834">3 Mar 08:00</text>
<text x="836" y="834">4 Mar 16:00</text>
<text x="900" y="834">8 Mar 00:00</text>
<text x="964" y="834">9 Mar 08:00</text>
<text x="1028" y="834">10 Mar 16:00</text>
<text x="1092" y="834">12 Mar 00:00</text>
<text x="1156" y="834">15 Mar 08:00</text>
<text x="1220" y="834">16 Mar 16:00</text>
<text x="1284" y="834">18 Mar 00:00</text>
</svg>
</body></html>
